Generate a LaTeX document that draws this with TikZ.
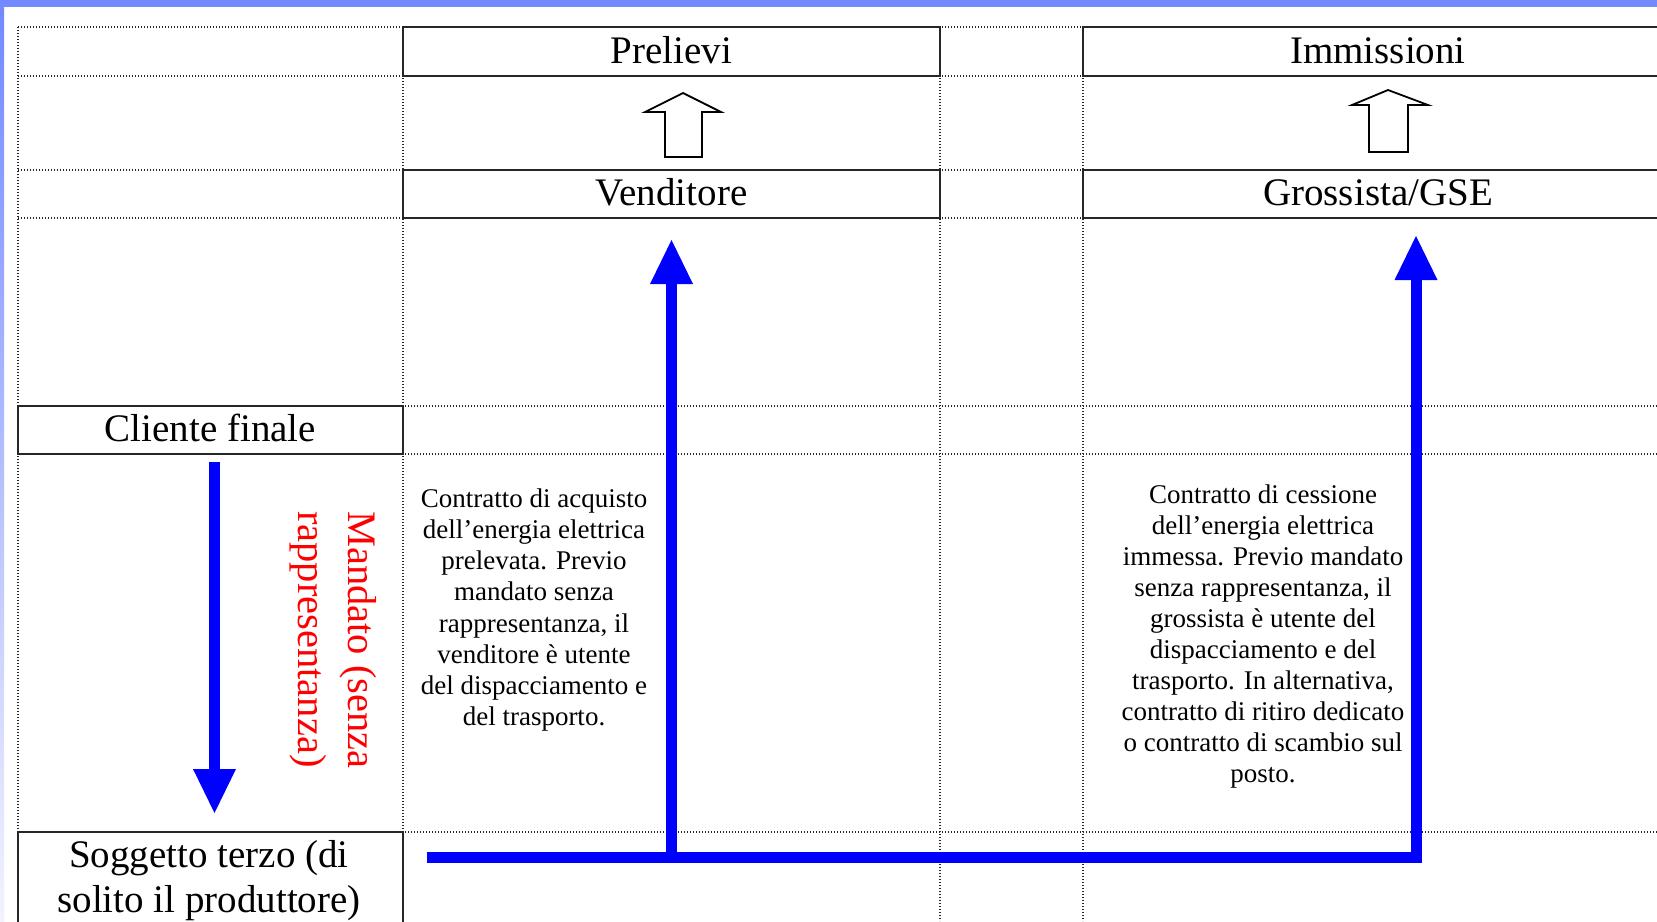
\documentclass[tikz,border=0pt]{standalone}
\usepackage{fontspec}
\setmainfont{Liberation Serif}
\usetikzlibrary{arrows.meta}
\definecolor{edgeblue}{RGB}{115,137,255}
\definecolor{midblue}{RGB}{205,213,255}
\definecolor{paleblue}{RGB}{242,243,255}
\definecolor{flowblue}{RGB}{0,0,255}
\definecolor{mandred}{RGB}{255,0,0}
\tikzset{
  gridline/.style={draw=black!85, line width=1.5pt, dash pattern=on 1.3pt off 1.7pt},
  box/.style={draw=black!85, line width=2pt, fill=white, inner sep=0pt,
    font=\fontsize{39}{46}\selectfont, text height=29pt, text depth=6pt},
  bodytext/.style={font=\fontsize{27}{31.1}\selectfont, align=center, inner sep=0pt},
  bigtext/.style={font=\fontsize{39}{46}\selectfont, align=center, inner sep=0pt},
  flow/.style={draw=flowblue, line width=11pt,
    -{Triangle[width=43pt,length=44pt,line width=0pt]}},
  hollow/.style={draw=black, line width=1.8pt, fill=white, line join=miter},
}
\begin{document}
\begin{tikzpicture}[x=1pt,y=-1pt]
\useasboundingbox (0,0) rectangle (1657,921);
\fill[white] (0,0) rectangle (1657,921);
% frame strips
\shade[top color=edgeblue, middle color=midblue, bottom color=paleblue] (0,0) rectangle (4,921);
\fill[edgeblue] (0,0) rectangle (1657,7);
% dotted grid
\foreach \y in {27,76,170,218,406,454,832}
  \draw[gridline] (18,\y) -- (1657,\y);
\foreach \x in {18,403,940,1083}
  \draw[gridline] (\x,27) -- (\x,921);
% boxes
\node[box, minimum width=537pt, minimum height=49pt] (prelievi) at (671.5,51.5) {Prelievi};
\node[box, minimum width=590pt, minimum height=49pt] (immissioni) at (1378,51.5) {Immissioni};
\node[box, minimum width=537pt, minimum height=48pt] (venditore) at (671.5,194) {Venditore};
\node[box, minimum width=590pt, minimum height=48pt] (grossista) at (1378,194) {Grossista/GSE};
\node[box, minimum width=385pt, minimum height=48pt] (cliente) at (210.5,430) {Cliente finale};
\node[box, minimum width=385pt, minimum height=108pt, text height=0pt, text depth=0pt] (soggetto) at (210.5,886) {};
\node[bigtext] (soggtext) at (209,880.5) {Soggetto terzo (di\\[-0.5pt]solito il produttore)};
% hollow arrows
\draw[hollow] (665,157) -- (665,112) -- (645,112) -- (683,93) -- (721,112) -- (702,112) -- (702,157) -- cycle;
\draw[hollow] (1369,152) -- (1369,105) -- (1352,105) -- (1388,90) -- (1428,105) -- (1408,105) -- (1408,152) -- cycle;
% texts
\node[bodytext] (acquisto) at (534,610) {Contratto di acquisto\\dell’energia elettrica\\prelevata. Previo\\mandato senza\\rappresentanza, il\\venditore è utente\\del dispacciamento e\\del trasporto.};
\node[bodytext] (cessione) at (1263,636.5) {Contratto di cessione\\dell’energia elettrica\\immessa. Previo mandato\\senza rappresentanza, il\\grossista è utente del\\dispacciamento e del\\trasporto. In alternativa,\\contratto di ritiro dedicato\\o contratto di scambio sul\\posto.};
\node[font=\fontsize{40.5}{50}\selectfont, text=mandred, align=left, inner sep=0pt, rotate=-90] (mandato) at (333,640) {Mandato (senza\\rappresentanza)};
% blue flows
\coordinate (mstart) at (214.5,462);
\coordinate (mend) at (214.5,813);
\coordinate (sstart) at (427,857);
\coordinate (junction) at (671.5,857);
\coordinate (vtip) at (671.5,240);
\coordinate (gtip) at (1416,236);
\draw[flow] (mstart) -- (mend);
\draw[flow] (junction) -- (vtip);
\draw[flow, line join=miter] (sstart) -| (gtip);
\end{tikzpicture}
\end{document}
